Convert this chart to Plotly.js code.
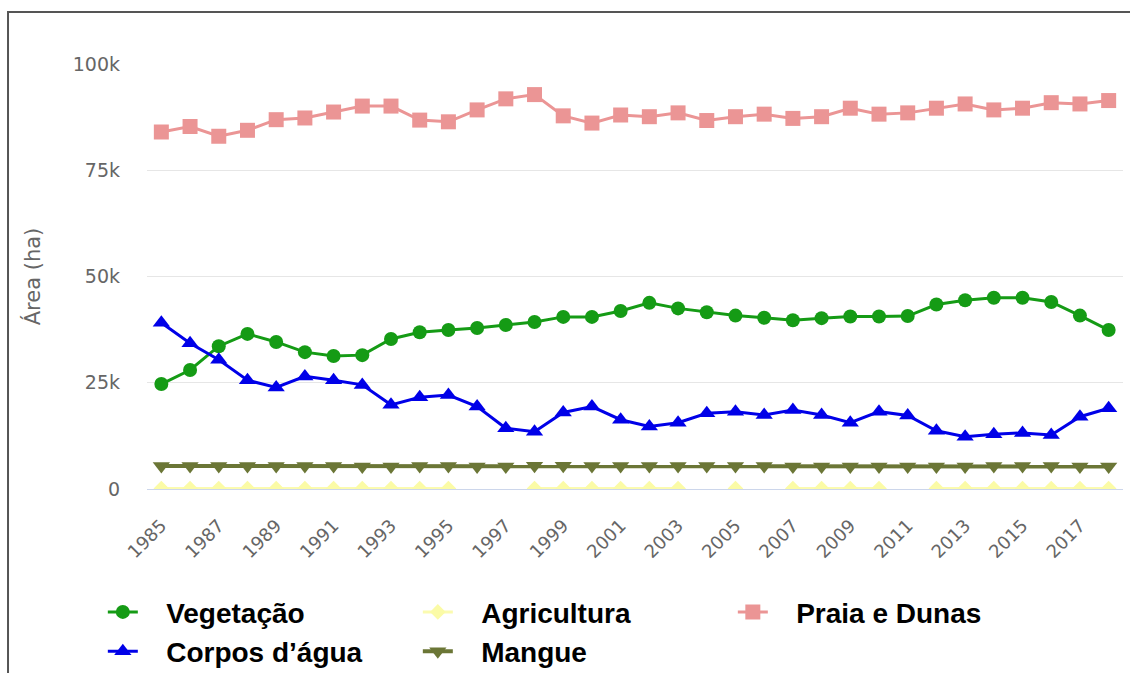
<!DOCTYPE html>
<html>
<head>
<meta charset="utf-8">
<script src="https://cdn.plot.ly/plotly-3.0.1.min.js"></script>
<style>
html,body{margin:0;padding:0;background:#fff;}
#chart{width:1130px;height:673px;}
</style>
</head>
<body>
<div id="chart"></div>
<script>
var years = [1985,1986,1987,1988,1989,1990,1991,1992,1993,1994,1995,1996,1997,1998,1999,2000,2001,2002,2003,2004,2005,2006,2007,2008,2009,2010,2011,2012,2013,2014,2015,2016,2017,2018];

var vegetacao = [24700,28000,33600,36500,34600,32200,31300,31500,35300,36900,37400,37900,38600,39300,40500,40500,41900,43800,42500,41600,40800,40300,39700,40200,40600,40600,40700,43400,44400,45000,45000,44000,40800,37400];

var corpos = [39100,34300,30400,25600,23900,26500,25600,24500,19800,21600,22100,19400,14300,13500,18000,19400,16300,14700,15600,17800,18200,17400,18600,17400,15600,18200,17300,13700,12300,12900,13200,12700,17000,19000];

var agricultura = [100,100,100,100,100,100,100,100,100,100,100,null,null,100,100,100,100,100,100,null,100,null,100,100,100,100,null,100,100,100,100,100,100,100];

var mangue = [5400,5400,5400,5400,5400,5400,5400,5300,5300,5400,5400,5300,5300,5500,5500,5400,5400,5400,5400,5400,5400,5400,5300,5300,5300,5300,5300,5300,5300,5400,5400,5400,5300,5300];

var praia = [84000,85300,83000,84400,86900,87300,88700,90100,90100,86800,86400,89200,91800,92800,87800,86100,88000,87600,88500,86700,87600,88200,87200,87600,89600,88200,88500,89600,90600,89200,89600,90900,90600,91400];

var seriesNames = ["Vegetação","Corpos d’água","Agricultura","Mangue","Praia e Dunas"];
var yTickVals = [0,25000,50000,75000,100000];
var yTickText = ["0","25k","50k","75k","100k"];

var pad = "\u00a0\u00a0\u00a0";

var traces = [
  {x:years, y:vegetacao, name:pad+seriesNames[0], legendrank:1, mode:"lines+markers",
   line:{color:"#159b15", width:3}, marker:{symbol:"circle", size:14, color:"#159b15"}},
  {x:years, y:corpos, name:pad+seriesNames[1], legendrank:4, mode:"lines+markers",
   line:{color:"#0000e8", width:3}, marker:{symbol:"triangle-up", size:15, color:"#0000e8"}},
  {x:years, y:agricultura, name:pad+seriesNames[2], legendrank:2, mode:"lines+markers", connectgaps:false,
   line:{color:"#fbfbb0", width:3}, marker:{symbol:"diamond", size:12, color:"#fbfba6"}},
  {x:years, y:mangue, name:pad+seriesNames[3], legendrank:5, mode:"lines+markers",
   line:{color:"#6b7636", width:4}, marker:{symbol:"triangle-down", size:15, color:"#6b7636"}},
  {x:years, y:praia, name:pad+seriesNames[4], legendrank:3, mode:"lines+markers",
   line:{color:"#eb9595", width:3}, marker:{symbol:"square", size:15, color:"#eb9595"}}
];

var layout = {
  width:1130, height:673,
  margin:{l:147, r:7, t:64, b:184},
  paper_bgcolor:"#ffffff", plot_bgcolor:"#ffffff",
  showlegend:true,
  legend:{
    orientation:"h", xref:"container", yref:"container",
    x:0.091, xanchor:"left", y:0.1275, yanchor:"top",
    font:{family:"Liberation Sans, Arial, sans-serif", size:28, color:"#000000", weight:"bold"},
    itemwidth:30, entrywidth:270, entrywidthmode:"pixels",
    traceorder:"normal", bgcolor:"rgba(0,0,0,0)"
  },
  xaxis:{
    range:[1984.5, 2018.5], tickmode:"linear", tick0:1985, dtick:2,
    tickangle:-45, showgrid:false, zeroline:false,
    showline:true, linecolor:"#ccd6eb", linewidth:1,
    ticks:"", ticklabelstandoff:18,
    tickfont:{family:"DejaVu Sans, sans-serif", size:18, color:"#666666"}
  },
  yaxis:{
    range:[0, 100000], tickmode:"array", tickvals:yTickVals, ticktext:yTickText,
    showgrid:true, gridcolor:"#e6e6e6", gridwidth:1,
    zeroline:true, zerolinecolor:"#ccd6eb", zerolinewidth:1,
    showline:false, ticks:"", ticklabelstandoff:26,
    tickfont:{family:"DejaVu Sans, sans-serif", size:19, color:"#666666"},
    title:{text:"Área (ha)", standoff:26, font:{family:"DejaVu Sans, sans-serif", size:21, color:"#666666"}}
  },
  shapes:[
    {type:"rect", xref:"paper", yref:"paper", x0:-0.1424, x1:1.05, y0:-0.5, y1:1.1224,
     line:{color:"#555555", width:2}, fillcolor:"rgba(0,0,0,0)", layer:"below"}
  ]
};

Plotly.newPlot("chart", traces, layout, {displayModeBar:false, staticPlot:true});
</script>
</body>
</html>
